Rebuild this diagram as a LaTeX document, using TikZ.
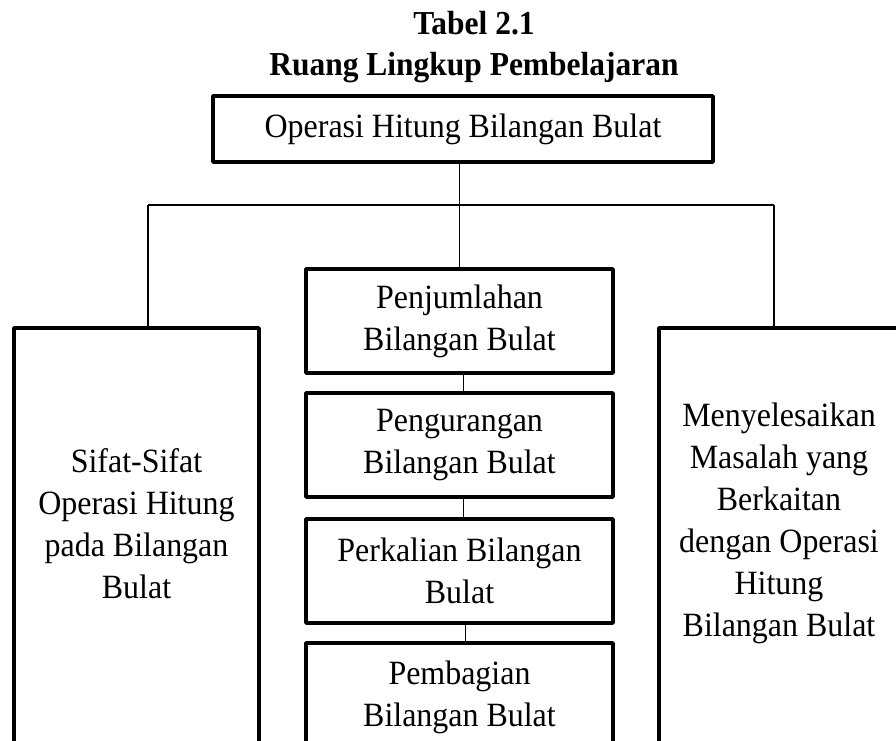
\documentclass[tikz,border=0pt]{standalone}
\usepackage{fontspec}
\setmainfont[FakeStretch=0.94]{Liberation Serif}
\begin{document}
\begin{tikzpicture}[x=1pt,y=-1pt,
  box/.style={draw, line width=3.6pt, line join=round, outer sep=0pt, inner sep=0pt, anchor=north west, align=center,
    font=\fontsize{34}{42}\selectfont},
  txt/.style={align=center, inner sep=0pt, font=\fontsize{34}{42}\selectfont},
  conn/.style={draw, line width=1.3pt}]
\useasboundingbox (0,0) rectangle (896,740);
\clip (0,0) rectangle (896,740);
\fill[white] (0,0) rectangle (896,740);
% title
\node[align=center, inner sep=0pt, font=\fontsize{33.5}{41}\selectfont\bfseries] (title) at (474,47) {Tabel 2.1\\Ruang Lingkup Pembelajaran};
% boxes
\node[box, minimum width=500pt, minimum height=66pt] (top) at (213,96) {Operasi Hitung Bilangan Bulat};
\node[box, minimum width=307pt, minimum height=104pt] (penj) at (306,269) {Penjumlahan\\Bilangan Bulat};
\node[box, minimum width=307pt, minimum height=104pt] (kurang) at (306,393) {Pengurangan\\Bilangan Bulat};
\node[box, minimum width=307pt, minimum height=104pt] (kali) at (306,519) {Perkalian Bilangan\\Bulat};
\node[box, minimum width=307pt, minimum height=108pt] (bagi) at (306,643) {Pembagian\\Bilangan Bulat};
\node[box, minimum width=245pt, minimum height=500pt] (sifat) at (14,328) {};
\node[box, minimum width=300pt, minimum height=500pt] (masalah) at (659,328) {};
\node[txt] (sifattxt) at (136.5,524) {Sifat-Sifat\\Operasi Hitung\\pada Bilangan\\Bulat};
\node[txt] (masalahtxt) at (779,523) {Menyelesaikan\\Masalah yang\\Berkaitan\\dengan Operasi\\Hitung\\Bilangan Bulat};
% connectors
\coordinate (jL) at (148,205);
\coordinate (jR) at (774,205);
\draw[conn] (jL) -- (jR);
\draw[conn] (jL) -- (jL |- sifat.north);
\draw[conn] (jR) -- (jR |- masalah.north);
\draw[conn] (penj.north) -- (penj.north |- top.south);
\draw[conn] ([xshift=4pt]penj.south) -- ([xshift=4pt]kurang.north);
\draw[conn] ([xshift=4pt]kurang.south) -- ([xshift=4pt]kali.north);
\draw[conn] ([xshift=6pt]kali.south) -- ([xshift=6pt]bagi.north);
\end{tikzpicture}
\end{document}
